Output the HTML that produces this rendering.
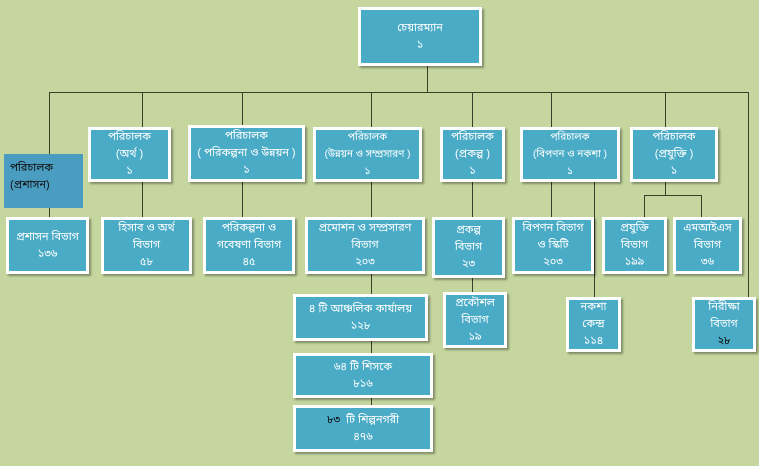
<!DOCTYPE html>
<html><head><meta charset="utf-8"><style>
body{margin:0;width:759px;height:466px;background:#c5d69e;position:relative;overflow:hidden;font-family:"Liberation Sans","Noto Sans Bengali","Lohit Bengali",sans-serif;}
.b{position:absolute;box-sizing:border-box;background:#4aabc6;border:3px solid #fff;box-shadow:2px 2px 2px rgba(0,0,0,.35);color:#fff;font-size:11px;line-height:17px;text-align:center;display:flex;flex-direction:column;justify-content:center;}
.l{position:absolute;background:#3a3f2a;}
.h{height:1px}.v{width:1px}
</style></head><body>
<!-- lines -->
<div class="l v" style="left:427px;top:66px;height:26px"></div>
<div class="l h" style="left:49px;top:92px;width:700px"></div>
<div class="l v" style="left:49px;top:92px;height:125px"></div>
<div class="l v" style="left:142px;top:92px;height:125px"></div>
<div class="l v" style="left:242px;top:92px;height:125px"></div>
<div class="l v" style="left:371px;top:92px;height:313px"></div>
<div class="l v" style="left:472px;top:92px;height:200px"></div>
<div class="l v" style="left:551px;top:92px;height:125px"></div>
<div class="l v" style="left:665px;top:92px;height:103px"></div>
<div class="l v" style="left:748px;top:92px;height:205px"></div>
<div class="l v" style="left:594px;top:182px;height:116px"></div>
<div class="l h" style="left:644px;top:195px;width:58px"></div>
<div class="l v" style="left:644px;top:195px;height:22px"></div>
<div class="l v" style="left:701px;top:195px;height:22px"></div>

<div class="b" style="left:358px;top:7px;width:124px;height:59px">চেয়ারম্যান<br>১</div>

<div style="position:absolute;left:4px;top:154px;width:79px;height:54px;background:#4a9cc0;color:#111;font-size:11px;line-height:17px;padding:6px 0 0 6px;box-sizing:border-box">পরিচালক<br>(প্রশাসন)</div>
<div class="b" style="left:88px;top:127px;width:83px;height:55px">পরিচালক<br>(অর্থ )<br>১</div>
<div class="b" style="left:188px;top:125px;width:117px;height:57px">পরিচালক<br>( পরিকল্পনা ও উন্নয়ন )<br>১</div>
<div class="b" style="left:313px;top:127px;width:109px;height:55px;font-size:10px">পরিচালক<br>(উন্নয়ন ও সম্প্রসারণ )<br>১</div>
<div class="b" style="left:440px;top:127px;width:65px;height:55px">পরিচালক<br>(প্রকল্প )<br>১</div>
<div class="b" style="left:520px;top:127px;width:100px;height:55px;font-size:10px">পরিচালক<br>(বিপণন ও নকশা )<br>১</div>
<div class="b" style="left:630px;top:127px;width:88px;height:55px">পরিচালক<br>(প্রযুক্তি )<br>১</div>

<div class="b" style="left:6px;top:217px;width:83px;height:57px">প্রশাসন বিভাগ<br>১৩৬</div>
<div class="b" style="left:101px;top:217px;width:91px;height:57px">হিসাব ও অর্থ<br>বিভাগ<br>৫৮</div>
<div class="b" style="left:203px;top:217px;width:92px;height:57px">পরিকল্পনা ও<br>গবেষণা বিভাগ<br>৪৫</div>
<div class="b" style="left:305px;top:217px;width:120px;height:57px">প্রমোশন ও সম্প্রসারণ<br>বিভাগ<br>২০৩</div>
<div class="b" style="left:432px;top:217px;width:73px;height:61px">প্রকল্প<br>বিভাগ<br>২৩</div>
<div class="b" style="left:512px;top:217px;width:82px;height:57px">বিপণন বিভাগ<br>ও স্কিটি<br>২০৩</div>
<div class="b" style="left:602px;top:217px;width:65px;height:57px">প্রযুক্তি<br>বিভাগ<br>১৯৯</div>
<div class="b" style="left:673px;top:217px;width:69px;height:57px">এমআইএস<br>বিভাগ<br>৩৬</div>

<div class="b" style="left:293px;top:294px;width:135px;height:47px">৪ টি আঞ্চলিক কার্যালয়<br>১২৮</div>
<div class="b" style="left:443px;top:292px;width:64px;height:56px">প্রকৌশল<br>বিভাগ<br>১৯</div>
<div class="b" style="left:566px;top:297px;width:55px;height:55px">নকশা<br>কেন্দ্র<br>১১৪</div>
<div class="b" style="left:692px;top:297px;width:64px;height:55px">নিরীক্ষা<br>বিভাগ<br><span style="color:#111">২৮</span></div>
<div class="b" style="left:293px;top:353px;width:140px;height:45px">৬৪ টি শিসকে<br>৮১৬</div>
<div class="b" style="left:293px;top:405px;width:140px;height:47px"><span><span style="color:#111">৮৩</span>&nbsp; টি শিল্পনগরী</span>৪৭৬</div>
</body></html>
